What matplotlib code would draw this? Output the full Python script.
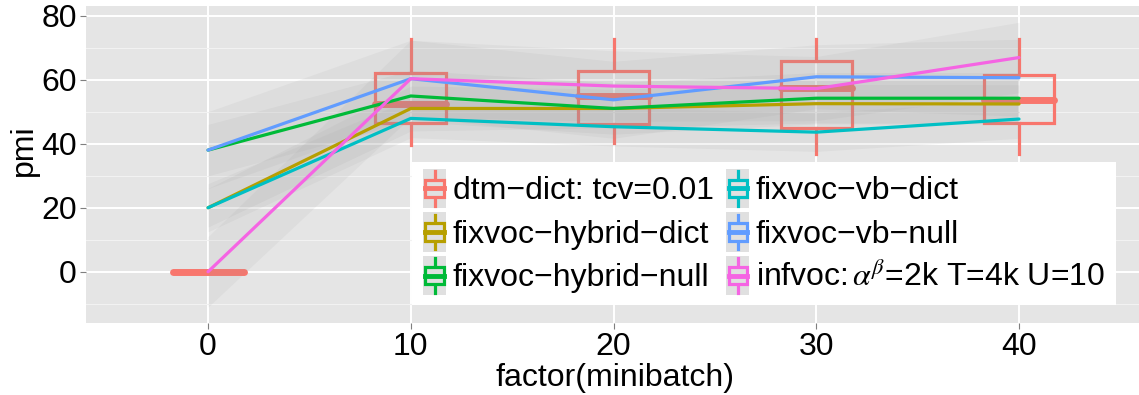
import numpy as np
import matplotlib
matplotlib.use("Agg")
import matplotlib.pyplot as plt
import matplotlib.patches as patches
from matplotlib.lines import Line2D
from matplotlib.legend_handler import HandlerBase

plt.rcParams['font.family'] = ['Liberation Sans', 'DejaVu Sans']
plt.rcParams['mathtext.fontset'] = 'stix'

minibatch = ["0", "10", "20", "30", "40"]

# dtm-dict: boxplot summary per minibatch
dtm_whislo = [0, 39.6, 40.3, 36.8, 36.8]
dtm_q1 = [0, 46.4, 46.2, 45.0, 46.6]
dtm_med = [0, 52.4, 55.0, 57.5, 53.7]
dtm_q3 = [0, 62.2, 62.7, 65.8, 61.5]
dtm_whishi = [0, 72.6, 72.6, 72.6, 72.6]

# mean pmi of the other runs
hybrid_dict = [20, 51.0, 51.0, 52.5, 52.4]
hybrid_null = [38, 54.9, 51.0, 54.2, 54.2]
vb_dict = [20, 47.9, 45.3, 43.6, 47.7]
vb_null = [38, 60.3, 53.7, 60.9, 60.6]
infvoc = [0, 60.3, 58.0, 57.2, 66.9]

# spread around each mean (half-width of grey band)
hybrid_dict_sd = [6, 7, 6, 6, 6]
hybrid_null_sd = [8, 8, 8, 8, 8]
vb_dict_sd = [7.5, 6, 6, 6, 6]
vb_null_sd = [12, 12, 12, 10, 12]
infvoc_sd = [11, 12, 11, 10, 11]

labels = ["dtm\u2212dict: tcv=0.01", "fixvoc\u2212hybrid\u2212dict", "fixvoc\u2212hybrid\u2212null",
          "fixvoc\u2212vb\u2212dict", "fixvoc\u2212vb\u2212null",
          r"infvoc:$\,\alpha^{\beta}$=2k T=4k U=10"]
colors = ["#F8766D", "#B79F00", "#00BA38", "#00BFC4", "#619CFF", "#F564E3"]

series = [(hybrid_dict, hybrid_dict_sd), (hybrid_null, hybrid_null_sd),
          (vb_dict, vb_dict_sd), (vb_null, vb_null_sd), (infvoc, infvoc_sd)]

fig = plt.figure(figsize=(11.39, 3.95), dpi=100)
ax = fig.add_axes([86.4 / 1139, 72.3 / 395, 1052.6 / 1139, 316.7 / 395])
ax.set_facecolor("#E5E5E5")

x = np.arange(len(minibatch))

# boxplot for dtm-dict
stats = []
for i in range(len(minibatch)):
    stats.append(dict(med=dtm_med[i], q1=dtm_q1[i], q3=dtm_q3[i],
                      whislo=dtm_whislo[i], whishi=dtm_whishi[i]))
ax.bxp(stats, positions=x, widths=0.35, showcaps=False, showfliers=False,
       patch_artist=True,
       boxprops=dict(facecolor="none", edgecolor=colors[0], linewidth=2.3),
       whiskerprops=dict(color=colors[0], linewidth=2.3),
       medianprops=dict(color=colors[0], linewidth=5, solid_capstyle="round"),
       zorder=2)

# grey bands, then lines
for (m, sd) in series:
    m = np.array(m)
    sd = np.array(sd)
    ax.fill_between(x, m - sd, m + sd, color="#999999", alpha=0.1, lw=0, zorder=3)
for (m, sd), c in zip(series, colors[1:]):
    ax.plot(x, m, color=c, lw=2.3, zorder=4, solid_capstyle="round")

ax.set_xlim(-0.6, 4 + 120 / 202.75)
ax.set_ylim(-15.9, 83.0)
ax.set_xticks(x)
ax.set_xticklabels(minibatch)
ax.set_yticks([0, 20, 40, 60, 80])
ax.set_yticks([-10, 10, 30, 50, 70], minor=True)
ax.grid(which="major", color="white", lw=1.4, zorder=0)
ax.grid(which="minor", axis="y", color="#F2F2F2", lw=0.8, zorder=0)
ax.set_axisbelow(True)
for s in ax.spines.values():
    s.set_visible(False)
ax.tick_params(which="major", length=4.5, color="#7F7F7F", labelsize=23, pad=2.5)
ax.tick_params(which="minor", length=0)
ax.set_xlabel("factor(minibatch)", fontsize=23)
ax.set_ylabel("pmi", fontsize=23)
ax.xaxis.set_label_coords(0.502, -0.127)
ax.yaxis.set_label_coords(-0.045, 0.545)


class BoxKey(HandlerBase):
    def create_artists(self, legend, orig_handle, xdescent, ydescent,
                       width, height, fontsize, trans):
        c = orig_handle.get_color()
        x0, y0 = -xdescent, -ydescent
        cx = x0 + width / 2
        bg = patches.Rectangle((x0, y0 - 0.16 * height), width, height * 1.32,
                               facecolor="#E0E0E0", edgecolor="none", transform=trans)
        wh = Line2D([cx, cx], [y0 - 0.08 * height, y0 + 1.08 * height], color=c,
                    lw=2.3, transform=trans)
        box = patches.Rectangle((x0 + 0.1 * width, y0 + 0.2 * height), 0.8 * width,
                                0.6 * height, facecolor="#E0E0E0", edgecolor=c,
                                lw=2.3, transform=trans)
        med = Line2D([x0 + 0.1 * width, x0 + 0.9 * width], [y0 + 0.5 * height] * 2,
                     color=c, lw=3.5, transform=trans)
        return [bg, wh, box, med]


handles = [Line2D([], [], color=c) for c in colors]
leg = ax.legend(handles, labels, ncol=2, loc="lower left",
                bbox_to_anchor=(0.309, 0.056), borderaxespad=0,
                handler_map={Line2D: BoxKey()}, fontsize=23,
                handlelength=0.72, handleheight=1.05, handletextpad=0.2,
                columnspacing=0.4, labelspacing=0.34, borderpad=0.36,
                frameon=True, fancybox=False)
leg.get_frame().set_facecolor("white")
leg.get_frame().set_edgecolor("none")
leg.get_frame().set_alpha(1)
leg.set_zorder(10)

fig.savefig("out.png", dpi=100)
